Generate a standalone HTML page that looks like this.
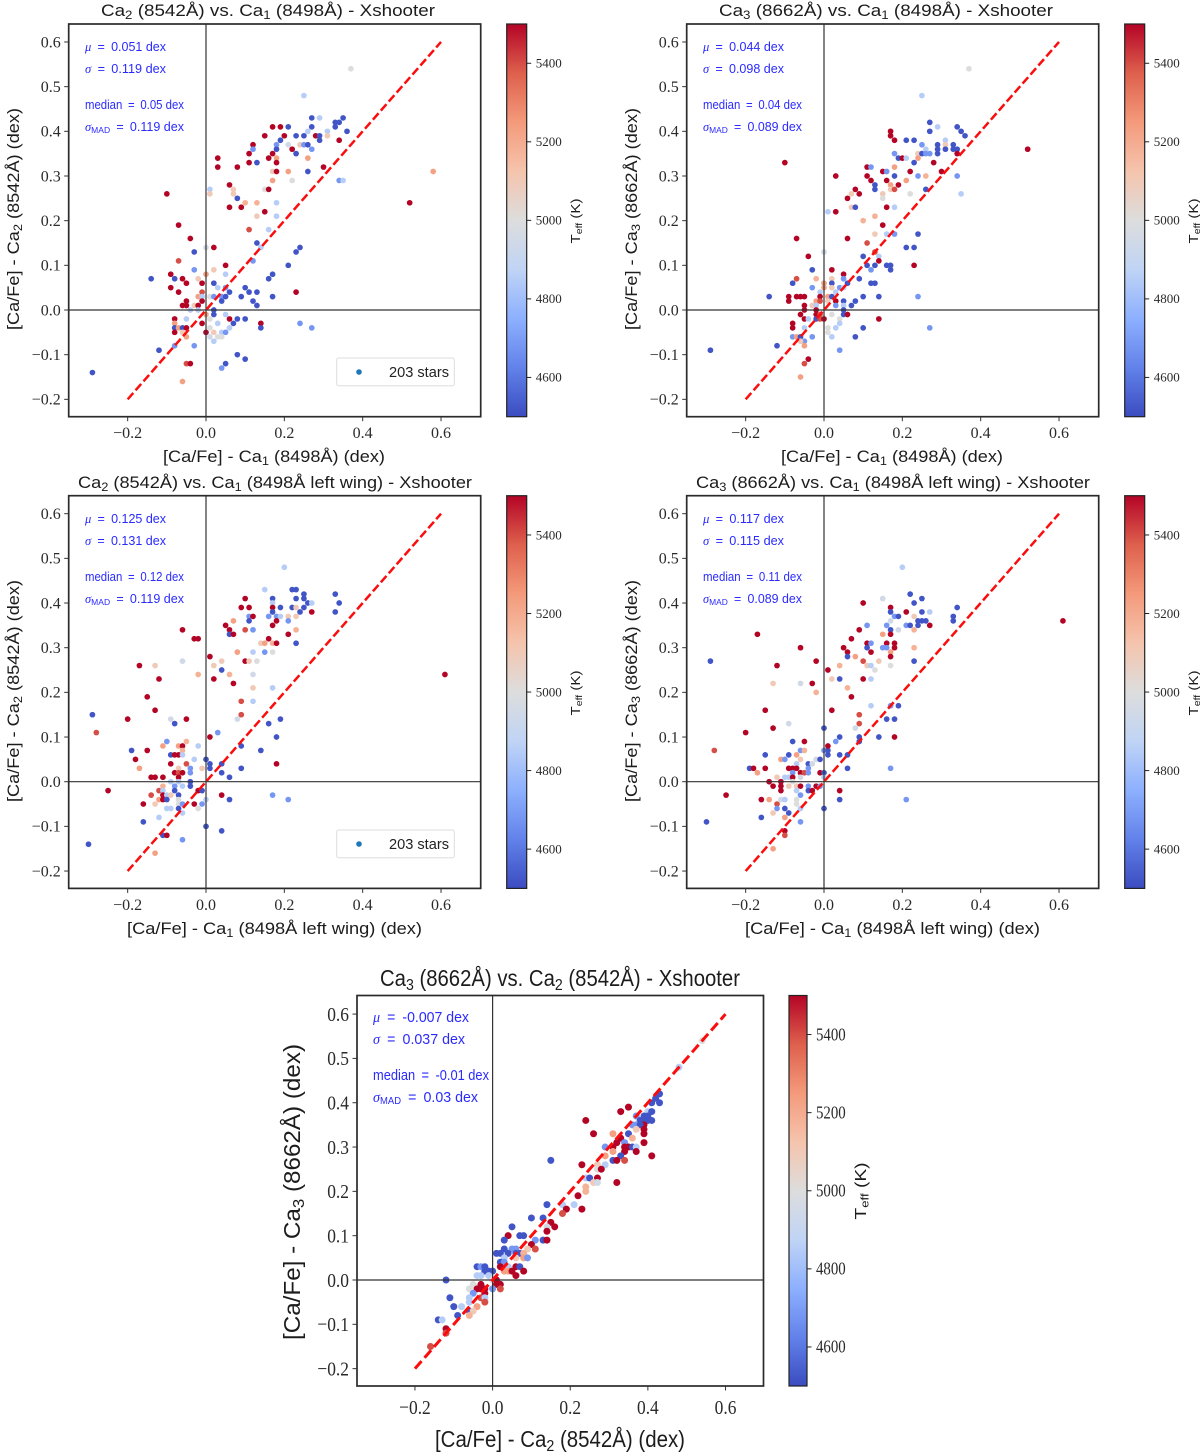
<!DOCTYPE html>
<html lang="en">
<head>
<meta charset="utf-8">
<title>Ca triplet abundance comparison - Xshooter</title>
<style>
html,body{margin:0;padding:0;background:#fff;}
svg{display:block;}
text{font-family:"Liberation Sans",sans-serif;fill:#1c1c1c;}
.tick{font-family:"Liberation Serif",serif;fill:#2a2a2a;}
.note{fill:#2a2aff;font-size:12.5px;}
.note5{fill:#2a2aff;font-size:15px;}
.math{font-family:"Liberation Serif",serif;font-style:italic;}
.title{font-size:17px;}
.label{font-size:17px;}
.legend-text{font-size:14.5px;fill:#222;}
</style>
</head>
<body>
<svg id="figure" xmlns="http://www.w3.org/2000/svg" width="1200" height="1453" viewBox="0 0 1200 1453">
<defs>
<linearGradient id="coolwarm" x1="0" y1="1" x2="0" y2="0">
<stop offset="0" stop-color="rgb(59,76,192)"/><stop offset="0.125" stop-color="rgb(98,130,234)"/><stop offset="0.25" stop-color="rgb(141,176,254)"/><stop offset="0.375" stop-color="rgb(192,212,245)"/><stop offset="0.5" stop-color="rgb(221,221,221)"/><stop offset="0.625" stop-color="rgb(245,196,173)"/><stop offset="0.75" stop-color="rgb(244,154,123)"/><stop offset="0.875" stop-color="rgb(222,96,77)"/><stop offset="1" stop-color="rgb(180,4,38)"/>
</linearGradient>
</defs>

<!-- Panel 1 -->
<text class="title" x="268" y="16" text-anchor="middle" textLength="334" lengthAdjust="spacingAndGlyphs">Ca<tspan dy="3" font-size="12">2</tspan><tspan dy="-3"> (8542Å) vs. Ca</tspan><tspan dy="3" font-size="12">1</tspan><tspan dy="-3"> (8498Å) - Xshooter</tspan></text>
<text class="label" x="274" y="462" text-anchor="middle" textLength="222" lengthAdjust="spacingAndGlyphs">[Ca/Fe] - Ca<tspan dy="3" font-size="12">1</tspan><tspan dy="-3"> (8498Å) (dex)</tspan></text>
<text class="label" transform="translate(19,219) rotate(-90)" text-anchor="middle" textLength="222" lengthAdjust="spacingAndGlyphs">[Ca/Fe] - Ca<tspan dy="3" font-size="12">2</tspan><tspan dy="-3"> (8542Å) (dex)</tspan></text>
<text class="note" x="85" y="51" textLength="81" lengthAdjust="spacingAndGlyphs"><tspan class="math">μ</tspan>&#8194;=&#8194;0.051 dex</text>
<text class="note" x="85" y="73" textLength="81" lengthAdjust="spacingAndGlyphs"><tspan class="math">σ</tspan>&#8194;=&#8194;0.119 dex</text>
<text class="note" x="85" y="109" textLength="99" lengthAdjust="spacingAndGlyphs">median&#8194;=&#8194;0.05 dex</text>
<text class="note" x="85" y="131" textLength="99" lengthAdjust="spacingAndGlyphs"><tspan class="math">σ</tspan><tspan dy="2" font-size="8.5">MAD</tspan><tspan dy="-2">&#8194;=&#8194;0.119 dex</tspan></text>
<text font-size="13" transform="translate(580,221) rotate(-90)" text-anchor="middle" textLength="45" lengthAdjust="spacingAndGlyphs">T<tspan dy="2" font-size="9">eff</tspan><tspan dy="-2"> (K)</tspan></text>

<!-- Panel 2 -->
<text class="title" x="886" y="16" text-anchor="middle" textLength="334" lengthAdjust="spacingAndGlyphs">Ca<tspan dy="3" font-size="12">3</tspan><tspan dy="-3"> (8662Å) vs. Ca</tspan><tspan dy="3" font-size="12">1</tspan><tspan dy="-3"> (8498Å) - Xshooter</tspan></text>
<text class="label" x="892" y="462" text-anchor="middle" textLength="222" lengthAdjust="spacingAndGlyphs">[Ca/Fe] - Ca<tspan dy="3" font-size="12">1</tspan><tspan dy="-3"> (8498Å) (dex)</tspan></text>
<text class="label" transform="translate(637,219) rotate(-90)" text-anchor="middle" textLength="222" lengthAdjust="spacingAndGlyphs">[Ca/Fe] - Ca<tspan dy="3" font-size="12">3</tspan><tspan dy="-3"> (8662Å) (dex)</tspan></text>
<text class="note" x="703" y="51" textLength="81" lengthAdjust="spacingAndGlyphs"><tspan class="math">μ</tspan>&#8194;=&#8194;0.044 dex</text>
<text class="note" x="703" y="73" textLength="81" lengthAdjust="spacingAndGlyphs"><tspan class="math">σ</tspan>&#8194;=&#8194;0.098 dex</text>
<text class="note" x="703" y="109" textLength="99" lengthAdjust="spacingAndGlyphs">median&#8194;=&#8194;0.04 dex</text>
<text class="note" x="703" y="131" textLength="99" lengthAdjust="spacingAndGlyphs"><tspan class="math">σ</tspan><tspan dy="2" font-size="8.5">MAD</tspan><tspan dy="-2">&#8194;=&#8194;0.089 dex</tspan></text>
<text font-size="13" transform="translate(1198,221) rotate(-90)" text-anchor="middle" textLength="45" lengthAdjust="spacingAndGlyphs">T<tspan dy="2" font-size="9">eff</tspan><tspan dy="-2"> (K)</tspan></text>

<!-- Panel 3 -->
<text class="title" x="275" y="488" text-anchor="middle" textLength="394" lengthAdjust="spacingAndGlyphs">Ca<tspan dy="3" font-size="12">2</tspan><tspan dy="-3"> (8542Å) vs. Ca</tspan><tspan dy="3" font-size="12">1</tspan><tspan dy="-3"> (8498Å left wing) - Xshooter</tspan></text>
<text class="label" x="274.5" y="934" text-anchor="middle" textLength="295" lengthAdjust="spacingAndGlyphs">[Ca/Fe] - Ca<tspan dy="3" font-size="12">1</tspan><tspan dy="-3"> (8498Å left wing) (dex)</tspan></text>
<text class="label" transform="translate(19,691) rotate(-90)" text-anchor="middle" textLength="222" lengthAdjust="spacingAndGlyphs">[Ca/Fe] - Ca<tspan dy="3" font-size="12">2</tspan><tspan dy="-3"> (8542Å) (dex)</tspan></text>
<text class="note" x="85" y="523" textLength="81" lengthAdjust="spacingAndGlyphs"><tspan class="math">μ</tspan>&#8194;=&#8194;0.125 dex</text>
<text class="note" x="85" y="545" textLength="81" lengthAdjust="spacingAndGlyphs"><tspan class="math">σ</tspan>&#8194;=&#8194;0.131 dex</text>
<text class="note" x="85" y="581" textLength="99" lengthAdjust="spacingAndGlyphs">median&#8194;=&#8194;0.12 dex</text>
<text class="note" x="85" y="603" textLength="99" lengthAdjust="spacingAndGlyphs"><tspan class="math">σ</tspan><tspan dy="2" font-size="8.5">MAD</tspan><tspan dy="-2">&#8194;=&#8194;0.119 dex</tspan></text>
<text font-size="13" transform="translate(580,693) rotate(-90)" text-anchor="middle" textLength="45" lengthAdjust="spacingAndGlyphs">T<tspan dy="2" font-size="9">eff</tspan><tspan dy="-2"> (K)</tspan></text>

<!-- Panel 4 -->
<text class="title" x="893" y="488" text-anchor="middle" textLength="394" lengthAdjust="spacingAndGlyphs">Ca<tspan dy="3" font-size="12">3</tspan><tspan dy="-3"> (8662Å) vs. Ca</tspan><tspan dy="3" font-size="12">1</tspan><tspan dy="-3"> (8498Å left wing) - Xshooter</tspan></text>
<text class="label" x="892.5" y="934" text-anchor="middle" textLength="295" lengthAdjust="spacingAndGlyphs">[Ca/Fe] - Ca<tspan dy="3" font-size="12">1</tspan><tspan dy="-3"> (8498Å left wing) (dex)</tspan></text>
<text class="label" transform="translate(637,691) rotate(-90)" text-anchor="middle" textLength="222" lengthAdjust="spacingAndGlyphs">[Ca/Fe] - Ca<tspan dy="3" font-size="12">3</tspan><tspan dy="-3"> (8662Å) (dex)</tspan></text>
<text class="note" x="703" y="523" textLength="81" lengthAdjust="spacingAndGlyphs"><tspan class="math">μ</tspan>&#8194;=&#8194;0.117 dex</text>
<text class="note" x="703" y="545" textLength="81" lengthAdjust="spacingAndGlyphs"><tspan class="math">σ</tspan>&#8194;=&#8194;0.115 dex</text>
<text class="note" x="703" y="581" textLength="99" lengthAdjust="spacingAndGlyphs">median&#8194;=&#8194;0.11 dex</text>
<text class="note" x="703" y="603" textLength="99" lengthAdjust="spacingAndGlyphs"><tspan class="math">σ</tspan><tspan dy="2" font-size="8.5">MAD</tspan><tspan dy="-2">&#8194;=&#8194;0.089 dex</tspan></text>
<text font-size="13" transform="translate(1198,693) rotate(-90)" text-anchor="middle" textLength="45" lengthAdjust="spacingAndGlyphs">T<tspan dy="2" font-size="9">eff</tspan><tspan dy="-2"> (K)</tspan></text>

<!-- Panel 5 -->
<text font-size="23" x="560" y="986" text-anchor="middle" textLength="360" lengthAdjust="spacingAndGlyphs">Ca<tspan dy="4" font-size="16">3</tspan><tspan dy="-4"> (8662Å) vs. Ca</tspan><tspan dy="4" font-size="16">2</tspan><tspan dy="-4"> (8542Å) - Xshooter</tspan></text>
<text font-size="23" x="560" y="1447" text-anchor="middle" textLength="250" lengthAdjust="spacingAndGlyphs">[Ca/Fe] - Ca<tspan dy="4" font-size="16">2</tspan><tspan dy="-4"> (8542Å) (dex)</tspan></text>
<text font-size="23" transform="translate(300,1192) rotate(-90)" text-anchor="middle" textLength="296" lengthAdjust="spacingAndGlyphs">[Ca/Fe] - Ca<tspan dy="4" font-size="16">3</tspan><tspan dy="-4"> (8662Å) (dex)</tspan></text>
<text class="note5" x="373" y="1022" textLength="96" lengthAdjust="spacingAndGlyphs"><tspan class="math">μ</tspan>&#8194;=&#8194;-0.007 dex</text>
<text class="note5" x="373" y="1044" textLength="92" lengthAdjust="spacingAndGlyphs"><tspan class="math">σ</tspan>&#8194;=&#8194;0.037 dex</text>
<text class="note5" x="373" y="1080" textLength="116" lengthAdjust="spacingAndGlyphs">median&#8194;=&#8194;-0.01 dex</text>
<text class="note5" x="373" y="1102" textLength="105" lengthAdjust="spacingAndGlyphs"><tspan class="math">σ</tspan><tspan dy="2" font-size="10">MAD</tspan><tspan dy="-2">&#8194;=&#8194;0.03 dex</tspan></text>
<text font-size="16" transform="translate(866,1191) rotate(-90)" text-anchor="middle" textLength="57" lengthAdjust="spacingAndGlyphs">T<tspan dy="2.5" font-size="11">eff</tspan><tspan dy="-2.5"> (K)</tspan></text>

<!-- Legends -->
<g>
<rect x="336.7" y="358" width="117.6" height="27.7" rx="2" fill="#fff" stroke="#ddd" stroke-width="1"/>
<circle cx="359" cy="372" r="2.8" fill="#1f77b4"/>
<text class="legend-text" x="389" y="377" textLength="60" lengthAdjust="spacingAndGlyphs">203 stars</text>
</g>
<g>
<rect x="336.7" y="830" width="117.6" height="27.7" rx="2" fill="#fff" stroke="#ddd" stroke-width="1"/>
<circle cx="359" cy="844" r="2.8" fill="#1f77b4"/>
<text class="legend-text" x="389" y="849" textLength="60" lengthAdjust="spacingAndGlyphs">203 stars</text>
</g>
</svg>

<script>
const tickValues = [-0.2, -0.1, 0, 0.1, 0.2, 0.3, 0.4, 0.5, 0.6];
const yTickLabels = ["−0.2", "−0.1", "0.0", "0.1", "0.2", "0.3", "0.4", "0.5", "0.6"];
const xTickValues = [-0.2, 0, 0.2, 0.4, 0.6];
const xTickLabels = ["−0.2", "0.0", "0.2", "0.4", "0.6"];
const teffTicks = [4600, 4800, 5000, 5200, 5400];
const teffRange = [4500, 5500];
const oneToOne = [-0.2, 0.6];

const p1X = [.37,.25,.27,.29,.35,.33,.34,.33,.17,.19,
.21,.27,.26,.31,.36,.15,.20,.23,.25,.28,
.29,.31,.29,.19,.34,.12,.18,.21,.24,.25,
.26,.12,.18,.22,.27,.11,.17,.23,.03,.16,
.18,.26,.11,.13,.18,.03,.08,.30,.17,.18,
.21,.26,.58,.17,.22,.34,.35,.06,.01,.07,
.15,.16,-.10,.01,.07,.08,.10,.13,.18,.52,
.06,.09,.15,.13,.18,-.07,.11,.16,-.04,.13,
0,.02,.14,.24,-.03,.23,-.07,.12,.05,.21,
-.03,.02,-.09,0,.05,.17,-.14,-.08,-.06,-.02,
.16,-.05,-.01,.02,-.09,.03,.05,.10,-.07,-.01,
.06,.11,.13,.23,-.02,-.01,.01,.02,.04,.05,
.09,.17,-.05,-.01,.04,.12,-.06,-.05,-.03,-.02,
.13,-.04,-.02,.02,0,.02,.05,-.08,-.05,.01,
.06,.08,.10,-.08,-.01,.03,.07,.14,.24,-.08,
-.07,-.06,-.05,.01,.06,.14,.27,-.08,-.06,0,
.02,.04,.05,-.05,.01,.03,.04,.02,-.08,-.03,
-.12,.08,.10,-.05,-.04,.05,.04,-.29,-.06];
const p1Y = [.54,.48,.43,.43,.43,.42,.42,.41,.41,.41,
.41,.41,.40,.40,.40,.39,.39,.39,.39,.39,
.39,.39,.38,.38,.38,.37,.37,.37,.37,.37,
.37,.36,.36,.36,.36,.35,.35,.35,.34,.34,
.34,.34,.33,.33,.33,.32,.32,.32,.31,.31,
.31,.31,.31,.29,.29,.29,.29,.28,.27,.27,
.27,.27,.26,.26,.26,.25,.24,.24,.24,.24,
.23,.23,.22,.21,.21,.19,.18,.18,.16,.15,
.14,.14,.14,.14,.13,.13,.11,.11,.10,.10,
.09,.09,.08,.08,.08,.08,.07,.07,.07,.07,
.07,.06,.06,.06,.05,.05,.05,.05,.04,.04,
.04,.04,.04,.04,.03,.03,.03,.03,.03,.03,
.03,.03,.02,.02,.02,.02,.01,.01,.01,.01,
.01,0,0,0,-.01,-.01,-.01,-.02,-.02,-.02,
-.02,-.02,-.02,-.03,-.03,-.03,-.03,-.03,-.03,-.04,
-.04,-.04,-.04,-.04,-.04,-.04,-.04,-.05,-.05,-.05,
-.05,-.05,-.05,-.06,-.06,-.06,-.06,-.07,-.08,-.08,
-.09,-.10,-.11,-.12,-.12,-.12,-.13,-.14,-.16];
const p1T = [5000,4850,4520,4850,4520,4520,4520,4520,5500,5500,
4520,4520,4850,4850,4520,5500,5500,4520,4520,5500,
4520,5100,4520,4520,5500,5500,4680,4950,5100,4680,
4520,4680,4520,5500,4680,5500,5500,4520,5500,5500,
5230,5230,5500,4520,5500,5500,5500,5500,5100,5500,
5230,4520,5230,5230,5000,4680,4850,5500,4850,5100,
5000,5500,5500,5100,5100,4520,5180,5180,4850,5500,
5500,5500,5500,5100,4850,5500,5400,4850,5500,4520,
4950,5500,4850,4520,4520,4520,5400,4680,5500,4520,
4680,5100,5500,5230,4850,4520,4520,4520,5500,5100,
4520,5500,5500,4520,5500,4850,4680,4520,5500,5400,
4520,4520,4520,5500,5230,4850,5000,4680,4680,4520,
4520,4520,5500,5500,4520,4520,5500,5500,5100,5500,
4520,4850,4850,4520,5230,4520,4850,5500,4850,5000,
5500,4520,4520,5230,5500,4850,4520,5500,4680,4520,
5230,4520,5500,5000,4850,4520,4680,5500,5100,5500,
5100,4850,4680,5230,4950,5000,5000,4850,4680,4680,
4520,4520,4520,5400,5500,4520,4680,4520,5230];

const p2X = [.37,.25,.27,.29,.34,.17,.27,.35,.17,.36,
.18,.21,.23,.31,.25,.29,.31,.33,.26,.29,
.31,.33,.34,.52,.18,.24,.25,.26,.27,.29,
.34,.19,.20,.21,.24,.23,.28,-.10,.11,.12,
.18,.15,.16,.22,.30,.03,.11,.18,.24,.26,
.34,.12,.16,.21,.13,.17,.19,.08,.13,.17,
.18,.26,.07,.09,.15,.22,.35,.06,.15,.07,
.08,.16,.18,.01,.03,.13,.10,.15,.16,.13,
.18,.24,-.07,.06,.11,.21,.23,.13,0,-.04,
.10,.14,.14,.11,.13,.16,.17,.23,-.03,.02,
.12,.17,.05,-.07,-.02,.02,.05,.09,-.08,0,
.02,.06,.12,.13,-.03,0,.02,.04,.05,-.01,
.03,-.14,-.09,-.07,-.06,-.05,-.01,.01,.02,.10,
.14,.24,-.09,-.02,-.01,.01,.03,.05,.08,-.05,
-.03,-.02,.03,.05,.07,-.05,-.02,.05,-.06,-.02,
-.01,.02,.05,.06,-.05,-.04,-.02,-.01,0,.04,
.14,-.08,.04,-.08,-.05,.01,.03,.10,.27,.01,
-.08,-.07,-.06,-.03,.02,.08,-.05,-.06,-.12,-.05,
-.29,.04,-.04,-.05,-.06];
const p2Y = [.54,.48,.42,.41,.41,.40,.40,.40,.39,.39,
.38,.38,.38,.38,.37,.37,.37,.37,.36,.36,
.36,.36,.36,.36,.35,.35,.35,.35,.35,.35,
.35,.34,.34,.34,.34,.33,.33,.33,.32,.32,
.32,.31,.31,.31,.31,.30,.30,.30,.30,.30,
.30,.29,.29,.29,.28,.28,.28,.27,.27,.27,
.27,.27,.26,.26,.26,.26,.26,.25,.25,.23,
.23,.23,.23,.22,.22,.21,.20,.19,.17,.17,
.17,.17,.16,.16,.15,.14,.14,.13,.13,.12,
.12,.12,.11,.10,.10,.10,.10,.10,.09,.09,
.09,.09,.08,.07,.07,.07,.07,.07,.06,.06,
.06,.06,.06,.06,.05,.05,.05,.05,.05,.04,
.04,.03,.03,.03,.03,.03,.03,.03,.03,.03,
.03,.03,.02,.02,.02,.02,.02,.02,.02,.01,
.01,.01,.01,.01,.01,0,0,0,-.01,-.01,
-.01,-.01,-.01,-.01,-.02,-.02,-.02,-.02,-.02,-.02,
-.02,-.03,-.03,-.04,-.04,-.04,-.04,-.04,-.04,-.05,
-.06,-.06,-.06,-.06,-.06,-.06,-.07,-.07,-.08,-.08,
-.09,-.09,-.11,-.12,-.15];
const p2T = [5000,4850,4520,4850,4520,5500,4520,4520,5500,4520,
5500,4520,4520,4850,4680,4520,5100,4520,4850,4520,
4520,4520,4520,5500,4680,5100,4520,4680,4680,4520,
5500,4520,5500,4850,5230,4520,5500,5500,5500,4680,
5230,5500,4680,5500,5500,5500,5500,4520,4680,5180,
4680,5500,5500,5230,4520,5230,5500,5500,4520,5100,
5400,4520,5100,5500,5100,5000,4850,5500,5000,5100,
4520,5500,4850,4850,5500,5180,5180,5500,4850,5100,
4680,4520,5500,5500,5400,4520,4520,5400,4950,5500,
4520,4850,5500,4520,4520,4520,4520,5500,4520,5500,
4680,4520,5500,5400,5180,5100,4680,4520,4520,5230,
4520,4520,4520,4520,4680,5230,5100,4680,4850,4850,
4850,4520,5500,5500,5500,5500,5500,5230,4520,4520,
4520,4680,5500,5230,5400,5100,5500,4520,4520,5500,
5100,4850,4680,4850,4520,5500,5500,4520,5500,5500,
5400,5000,4520,5500,5500,4850,4520,5400,5500,5000,
5500,5500,4850,5500,4850,5000,4850,4520,4680,5000,
4680,5230,4520,4680,4850,4520,4680,5100,4520,5230,
4520,4680,5500,5400,5230];

const p3X = [.20,.15,.22,.23,.25,.33,.10,.17,.23,.25,
.26,.27,.34,.17,.09,.11,.17,.19,.22,.23,
.25,.17,.24,.27,.33,.11,.12,.16,.18,.19,
.21,.23,.07,.11,.18,.21,.05,.17,-.06,.06,
.10,.12,.23,.06,.07,.21,-.03,-.02,.16,.14,
.15,.17,.18,.23,.08,.12,.15,.17,.01,-.06,
.04,.10,.11,.13,-.17,-.13,.02,.04,-.02,.06,
.12,-.12,.02,.07,.12,.17,-.15,.09,.12,-.13,
-.29,.09,-.20,-.09,-.05,.08,.19,-.08,.16,-.28,
.03,.01,.18,-.10,-.05,-.11,-.07,-.06,-.02,.09,
-.19,-.15,-.06,.14,-.09,-.08,-.07,-.06,-.18,-.03,
0,-.09,-.05,.01,.04,.18,-.17,-.07,-.04,-.01,
.01,.09,-.08,-.07,-.06,-.04,.04,-.14,-.13,-.11,
-.07,.06,-.09,-.07,-.04,-.11,-.08,-.06,-.04,-.25,
-.12,-.11,-.08,-.02,-.01,-.14,-.11,-.10,-.09,-.07,
.17,.04,-.12,-.11,-.10,-.07,0,.06,.21,-.16,
-.13,-.07,-.06,-.03,-.01,-.10,-.09,-.07,-.02,-.06,
-.12,-.16,0,.04,-.11,-.10,-.06,-.30,-.13,.61];
const p3Y = [.48,.43,.43,.43,.42,.42,.41,.41,.41,.41,
.40,.40,.40,.40,.39,.39,.39,.39,.39,.39,
.39,.38,.38,.38,.38,.37,.37,.37,.37,.37,
.37,.37,.36,.36,.36,.36,.35,.35,.34,.34,
.34,.34,.34,.33,.33,.33,.32,.32,.32,.31,
.31,.31,.31,.31,.29,.29,.29,.29,.28,.27,
.27,.27,.27,.27,.26,.26,.26,.25,.24,.24,
.24,.23,.23,.22,.21,.21,.19,.18,.18,.16,
.15,.15,.14,.14,.14,.14,.14,.13,.13,.11,
.11,.10,.10,.09,.09,.08,.08,.08,.08,.08,
.07,.07,.07,.07,.06,.06,.06,.06,.05,.05,
.05,.04,.04,.04,.04,.04,.03,.03,.03,.03,
.03,.03,.02,.02,.02,.02,.02,.01,.01,.01,
.01,.01,0,0,0,-.01,-.01,-.01,-.01,-.02,
-.02,-.02,-.02,-.02,-.02,-.03,-.03,-.03,-.03,-.03,
-.03,-.03,-.04,-.04,-.04,-.04,-.04,-.04,-.04,-.05,
-.05,-.05,-.05,-.05,-.05,-.06,-.06,-.06,-.06,-.07,
-.08,-.09,-.10,-.11,-.12,-.12,-.13,-.14,-.16,.24];
const p3T = [4850,4850,4520,4520,4520,4520,5500,4520,4520,4520,
4520,4850,4520,4850,5500,5500,5500,4520,4520,5100,
4520,4520,4520,5500,4520,4680,5500,4680,4680,4850,
5100,5100,5230,4520,5500,4680,5500,5500,5500,5500,
5400,4680,5180,4520,5500,5500,5500,5500,5500,5100,
5230,5180,5500,4520,5230,4850,4680,5000,5500,4950,
5100,5500,5100,5000,5500,5100,5100,4520,5180,5180,
4950,5500,5500,5500,5100,4850,5500,5400,4850,5500,
4520,5400,5500,4950,5500,4950,4520,4520,4520,5400,
4680,5500,4520,4680,5180,5230,5230,5500,4850,4520,
4520,5500,5180,4520,4520,5500,5500,4850,5500,4850,
4520,5500,5400,4520,4520,5500,5230,5100,4680,5100,
4520,4520,5500,5400,5500,4680,4520,5500,5500,5500,
5500,4520,4850,4850,4520,5180,4680,4850,4520,5500,
5400,4850,4520,5500,4520,5400,5500,4850,5100,4520,
4680,5500,5230,5500,4520,5000,4850,4520,4680,5500,
5100,5000,4680,5500,4680,4850,4850,4520,5000,4850,
4850,4520,4520,4520,4520,5500,4680,4520,5230,5500];

const p4X = [.20,.22,.15,.25,.10,.23,.17,.34,.17,.21,
.25,.27,.18,.19,.23,.33,.17,.24,.25,.26,
.33,.61,.11,.16,.21,.22,.24,.27,.09,.17,
.19,.23,-.17,.15,.17,.07,.11,.12,.16,.18,
-.06,.05,.11,.15,.16,.18,.23,.06,.12,.17,
.06,.08,.17,-.29,-.02,.10,.14,.23,-.12,.04,
.11,.12,.17,.01,.13,-.13,-.06,-.03,.02,.04,
.10,.12,.06,-.02,.07,.12,.17,.19,-.15,.02,
.09,.16,.18,-.09,.09,-.13,0,.08,-.20,.04,
.09,.14,.18,-.08,-.05,.03,.09,-.28,-.06,-.05,
0,.01,.01,-.15,-.09,-.07,.01,.04,.06,-.11,
-.10,-.06,-.02,-.01,-.07,-.04,-.03,-.19,-.18,-.15,
-.09,-.08,-.07,-.04,.06,.17,-.17,-.08,-.06,-.05,
-.04,-.01,0,-.12,-.10,-.09,-.08,-.06,0,-.14,
-.11,-.08,-.13,-.11,-.09,-.07,-.06,-.04,-.02,-.01,
-.11,-.07,-.04,-.03,.04,-.25,-.06,-.16,-.14,-.11,
-.10,-.07,.04,.21,-.12,-.07,-.12,-.10,-.06,0,
-.13,-.09,-.16,-.10,-.30,-.06,-.10,-.10,-.13];
const p4Y = [.48,.42,.41,.41,.40,.40,.39,.39,.38,.38,
.38,.38,.37,.37,.37,.37,.36,.36,.36,.36,
.36,.36,.35,.35,.35,.35,.35,.35,.34,.34,
.34,.34,.33,.33,.33,.32,.31,.31,.31,.31,
.30,.30,.30,.30,.30,.30,.30,.29,.29,.29,
.28,.28,.28,.27,.27,.27,.27,.27,.26,.26,
.26,.26,.26,.25,.25,.22,.22,.22,.23,.23,
.23,.23,.21,.20,.19,.17,.17,.17,.16,.16,
.15,.14,.14,.13,.13,.12,.12,.12,.11,.10,
.10,.10,.10,.09,.09,.09,.09,.07,.07,.07,
.07,.07,.08,.06,.06,.06,.06,.06,.06,.05,
.05,.05,.05,.05,.04,.04,.04,.03,.03,.03,
.03,.03,.03,.03,.03,.03,.02,.02,.02,.02,
.02,.02,.02,.01,.01,.01,.01,.01,.01,0,
0,0,-.01,-.01,-.01,-.01,-.01,-.01,-.01,-.01,
-.02,-.02,-.02,-.02,-.02,-.03,-.03,-.04,-.04,-.04,
-.04,-.04,-.04,-.04,-.05,-.05,-.06,-.06,-.06,-.06,
-.07,-.07,-.08,-.08,-.09,-.09,-.11,-.12,-.15];
const p4T = [4850,4520,4950,4520,5500,4520,5500,4520,4520,5500,
4520,4850,4680,4520,5100,4520,4950,4520,4520,4520,
4520,5500,4680,4680,4680,4520,4520,5500,5500,4520,
4950,5180,5500,5230,5500,5500,5500,4680,5500,5500,
5500,5500,4520,4680,4680,5500,5180,5500,5500,5230,
4520,5230,5500,4520,5500,5400,5100,4520,5500,5180,
5100,4850,5000,5500,5000,5100,4950,5500,5100,4520,
5500,4850,5180,5180,5500,4850,4680,4520,5500,5500,
5400,4520,4520,4950,5400,5500,4520,4950,5500,4520,
4520,4520,5500,4520,5500,4680,4520,5400,4680,5180,
4680,4520,5500,4520,4520,5230,4520,4520,4520,5230,
4680,5100,4950,4520,4850,4520,4950,4520,5500,5500,
5500,5500,5500,4680,4520,4680,5230,4680,5500,5400,
4680,5500,4520,5100,4850,4850,5500,4950,4850,5500,
5500,5000,5500,5500,5100,5100,5500,4680,5500,4680,
5500,4850,4520,5500,5500,5500,4680,5500,5230,4950,
4850,5000,4520,4680,5400,5000,4680,4520,4850,4520,
5100,4520,4520,5230,4520,4680,5500,5400,5230];

const p5X = [.43,.43,.42,.41,.35,.33,.40,.41,.39,.37,
.40,.41,.40,.39,.38,.24,.36,.37,.39,.38,
.39,.37,.26,.31,.35,.39,.33,.36,.32,.34,
.39,.31,.29,.34,.35,.36,.37,.31,.34,.37,
.33,.29,.41,.31,.32,.34,.15,.29,.27,.23,
.27,.28,.24,.25,.27,.26,.27,.32,.24,.24,
.22,.21,.18,.14,.19,.23,.18,.10,.13,.15,
.16,.14,.05,.14,.07,.08,.04,.03,.11,.13,
.14,.10,.11,.05,.06,.03,.09,.01,.02,.04,
.06,.07,.08,.03,.06,.08,.09,.02,.03,-.04,
-.03,-.02,.02,.04,.06,.07,-.02,-.01,0,.03,
.04,.05,.08,-.04,-.03,-.01,.06,-.12,0,.01,
-.05,-.03,.01,.02,-.06,-.04,-.03,-.02,0,.02,
-.05,-.02,-.11,-.06,-.03,-.02,-.06,-.02,-.10,-.08,
-.04,-.06,-.05,-.09,-.06,-.14,-.13,-.12,-.12,-.16,
.48,.54];
const p5Y = [.42,.40,.41,.40,.39,.38,.38,.38,.37,.37,
.37,.36,.36,.36,.36,.36,.35,.35,.35,.35,
.34,.34,.33,.33,.33,.33,.32,.32,.31,.31,
.31,.30,.30,.30,.30,.30,.30,.29,.29,.29,
.28,.28,.28,.27,.27,.27,.27,.26,.26,.26,
.25,.25,.23,.23,.23,.22,.22,.22,.21,.20,
.19,.17,.17,.17,.16,.16,.15,.14,.14,.13,
.12,.12,.12,.11,.10,.10,.10,.09,.09,.09,
.09,.08,.07,.07,.07,.07,.07,.06,.06,.06,
.06,.06,.06,.05,.05,.05,.05,.04,.04,.03,
.03,.03,.03,.03,.03,.03,.02,.02,.02,.02,
.02,.02,.02,.01,.01,.01,.01,0,0,0,
-.01,-.01,-.01,-.01,-.02,-.02,-.02,-.02,-.02,-.02,
-.03,-.03,-.04,-.04,-.04,-.04,-.05,-.05,-.06,-.06,
-.06,-.07,-.07,-.08,-.08,-.09,-.09,-.11,-.12,-.15,
.48,.54];
const p5T = [4520,4520,4520,4520,5500,5500,4850,4520,4520,4680,
4520,4520,4520,4520,4520,5500,4680,4680,5500,4520,
5500,5100,5500,5230,4520,5500,5500,5180,5500,4680,
5500,5500,4680,5500,5500,4520,4850,5230,5500,5500,
4520,5230,5500,4520,5500,5400,4520,4850,5100,5500,
5000,5500,4850,4520,5500,5100,4950,5500,5180,5180,
5500,4850,4850,4520,5500,5500,5400,4520,4520,5500,
5500,4950,4520,5500,4520,4520,5500,4520,4680,4520,
5500,5500,5400,4680,4680,4520,5100,4520,4520,4520,
4520,4520,5180,4850,5100,5230,4680,4520,4680,4520,
4680,4520,5500,4850,5500,4520,4520,4520,4520,5230,
5230,5500,5500,4850,4850,4850,5500,4520,5000,5500,
5000,5500,5500,5500,5000,5500,5500,5500,4680,5400,
4680,5500,4520,4850,5400,4850,4850,5400,4520,4850,
5230,4520,5100,4520,5180,4520,4850,5500,5400,5400,
4850,5000];

// Matplotlib "coolwarm" colormap anchor colours
const coolwarmStops = [[59,76,192],[98,130,234],[141,176,254],[192,212,245],[221,221,221],[245,196,173],[244,154,123],[222,96,77],[180,4,38]];

function teffColor(t) {
  const f = Math.max(0, Math.min(1, (t - teffRange[0]) / (teffRange[1] - teffRange[0]))) * (coolwarmStops.length - 1);
  const i = Math.min(coolwarmStops.length - 2, Math.floor(f));
  const k = f - i;
  const c = coolwarmStops[i].map((v, j) => Math.round(v + (coolwarmStops[i + 1][j] - v) * k));
  return 'rgb(' + c.join(',') + ')';
}

const panels = [
  {n:1, xs:p1X, ys:p1Y, ts:p1T, x0:206,   y0:310,    sx:391.7, sy:446.7, left:68.7,  right:480.7,  top:24,    bottom:416.7,  cbL:506.7,  cbR:526.7,  r:2.85, font:16, cbFont:13, squeeze:1,    xTickY:438, line:2.5, big:false},
  {n:2, xs:p2X, ys:p2Y, ts:p2T, x0:824,   y0:310,    sx:391.7, sy:446.7, left:686.7, right:1098.7, top:24,    bottom:416.7,  cbL:1124.7, cbR:1144.7, r:2.85, font:16, cbFont:13, squeeze:1,    xTickY:438, line:2.5, big:false},
  {n:3, xs:p3X, ys:p3Y, ts:p3T, x0:206,   y0:781.7,  sx:391.7, sy:446.7, left:68.7,  right:480.7,  top:495.7, bottom:888.4,  cbL:506.7,  cbR:526.7,  r:2.85, font:16, cbFont:13, squeeze:1,    xTickY:910, line:2.5, big:false},
  {n:4, xs:p4X, ys:p4Y, ts:p4T, x0:824,   y0:781.7,  sx:391.7, sy:446.7, left:686.7, right:1098.7, top:495.7, bottom:888.4,  cbL:1124.7, cbR:1144.7, r:2.85, font:16, cbFont:13, squeeze:1,    xTickY:910, line:2.5, big:false},
  {n:5, xs:p5X, ys:p5Y, ts:p5T, x0:492.6, y0:1280,   sx:388.2, sy:443.2, left:357,   right:763.5,  top:995.5, bottom:1386,   cbL:789,    cbR:807,    r:3.5, font:20.5, cbFont:17.5, squeeze:0.85, xTickY:1414, line:3, big:true}
];

const svg = document.getElementById('figure');
const NS = 'http://www.w3.org/2000/svg';

function node(parent, tag, attrs) {
  const el = document.createElementNS(NS, tag);
  for (const k in attrs) el.setAttribute(k, attrs[k]);
  parent.appendChild(el);
  return el;
}

function label(parent, x, y, str, size, anchor, squeeze, name) {
  const el = node(parent, 'text', {
    class: 'tick',
    'font-size': size,
    'text-anchor': anchor,
    transform: 'translate(' + x + ',' + y + ') scale(' + squeeze + ',1)'
  });
  
  
  el.textContent = str;
  return el;
}

panels.forEach(function (p) {
  const xScale = function (v) { return p.x0 + v * p.sx; };
  const yScale = function (v) { return p.y0 - v * p.sy; };
  const teffScale = function (t) {
    return p.bottom - (t - teffRange[0]) / (teffRange[1] - teffRange[0]) * (p.bottom - p.top);
  };

  const g = node(svg, 'g', {});
  
  

  const bg = node(g, 'rect', {x: p.left, y: p.top, width: p.right - p.left, height: p.bottom - p.top, fill: 'none'});
  
  

  const points = node(g, 'g', {});
  
  
  p.xs.forEach(function (v, i) {
    const c = node(points, 'circle', {cx: xScale(v).toFixed(2), cy: yScale(p.ys[i]).toFixed(2), r: p.r, fill: teffColor(p.ts[i])});
    
    
  });

  const hLine = node(g, 'line', {x1: p.left, x2: p.right, y1: yScale(0), y2: yScale(0), stroke: '#333', 'stroke-width': 1.2});
  
  
  const vLine = node(g, 'line', {x1: xScale(0), x2: xScale(0), y1: p.top, y2: p.bottom, stroke: '#333', 'stroke-width': 1.2});
  
  

  const identity = node(g, 'line', {
    x1: xScale(oneToOne[0]), y1: yScale(oneToOne[0]),
    x2: xScale(oneToOne[1]), y2: yScale(oneToOne[1]),
    stroke: '#fb0d0d', 'stroke-width': p.line, 'stroke-dasharray': p.big ? '10 4.5' : '8.5 3.5'
  });
  
  

  const frame = node(g, 'rect', {x: p.left, y: p.top, width: p.right - p.left, height: p.bottom - p.top, fill: 'none', stroke: '#2a2a2a', 'stroke-width': 1.7});
  
  

  xTickValues.forEach(function (v, i) {
    const t = node(g, 'line', {x1: xScale(v), x2: xScale(v), y1: p.bottom, y2: p.bottom + 4.5, stroke: '#333', 'stroke-width': 1});
    
    
    label(g, xScale(v), p.xTickY, xTickLabels[i], p.font, 'middle', p.squeeze, 'x-tick-label');
  });

  tickValues.forEach(function (v, i) {
    const t = node(g, 'line', {x1: p.left - 4.5, x2: p.left, y1: yScale(v), y2: yScale(v), stroke: '#333', 'stroke-width': 1});
    
    
    label(g, p.left - 8, yScale(v) + p.font * 0.33, yTickLabels[i], p.font, 'end', p.squeeze, 'y-tick-label');
  });

  const cb = node(g, 'rect', {x: p.cbL, y: p.top, width: p.cbR - p.cbL, height: p.bottom - p.top, fill: 'url(#coolwarm)', stroke: '#222', 'stroke-width': 1.2});
  
  

  teffTicks.forEach(function (t) {
    const tick = node(g, 'line', {x1: p.cbR, x2: p.cbR + 4.5, y1: teffScale(t), y2: teffScale(t), stroke: '#222', 'stroke-width': 1});
    
    
    label(g, p.cbR + 9, teffScale(t) + p.cbFont * 0.33, String(t), p.cbFont, 'start', p.squeeze, 'colorbar-tick-label');
  });
});
</script>
</body>
</html>
